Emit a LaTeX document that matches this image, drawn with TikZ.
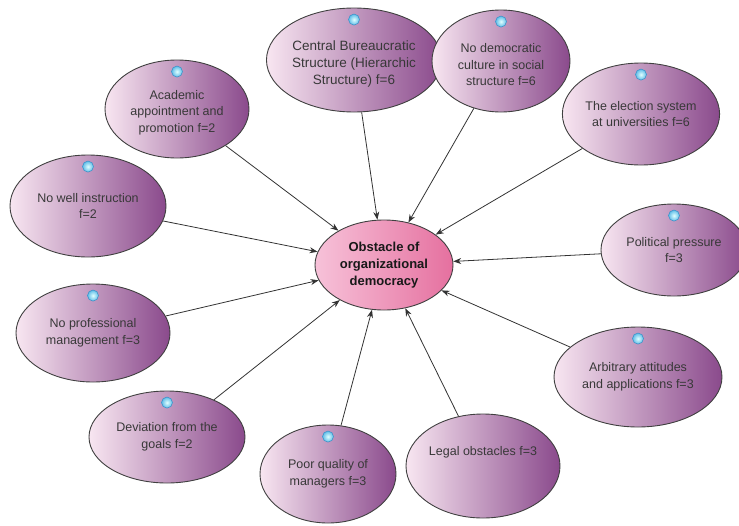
\documentclass[tikz,border=0pt]{standalone}
\usepackage{fontspec}
\setmainfont{Liberation Sans}
\usetikzlibrary{shapes,arrows.meta}
\definecolor{bubleft}{HTML}{F8E6F1}
\definecolor{bubmid}{HTML}{E9D0E6}
\definecolor{bubright}{HTML}{8A4A8C}
\definecolor{obsleft}{HTML}{F7C2D9}
\definecolor{obsright}{HTML}{E5709F}
\definecolor{dotblue}{HTML}{5FBDE8}
\definecolor{dotring}{HTML}{3E93C9}

\begin{document}
\begin{tikzpicture}[x=1pt,y=-1pt,
  cause/.style={ellipse, draw=black!75, line width=0.9pt, left color=bubleft, middle color=bubmid, right color=bubright, text=black!78, align=center, inner sep=0pt, font=\fontsize{12.5}{16.5}\selectfont},
  obstacle/.style={ellipse, draw=black!75, line width=0.9pt, left color=obsleft, right color=obsright, text=black!90, align=center, inner sep=0pt, font=\bfseries\fontsize{13}{17}\selectfont},
  sz/.style 2 args={minimum width=#1pt, minimum height=#2pt},
  blob/.style={circle, inner color=cyan!12, outer color=dotblue, draw=dotring, line width=0.6pt, minimum size=11pt, inner sep=0pt},
  link/.style={-{Stealth[length=8pt,width=6pt]}, draw=black!80, line width=0.8pt}]
\useasboundingbox (0,0) rectangle (739,525);
\node[obstacle, sz={138}{90}] (obst) at (384,265) {Obstacle of\\organizational\\democracy};
\node[cause, sz={144}{98}] (acad) at (177,109) {\\Academic\\appointment and\\promotion f=2};
\node[cause, sz={160}{104}, font=\fontsize{13.5}{17}\selectfont] (cent) at (354,60) {\\Central Bureaucratic\\Structure (Hierarchic\\Structure) f=6};
\node[cause, sz={138}{102}] (demo) at (501,61) {\\No democratic\\culture in social\\structure f=6};
\node[cause, sz={152}{102}] (elec) at (641,114) {The election system\\at universities f=6};
\node[cause, sz={146}{92}] (poli) at (674,250) {Political pressure\\f=3};
\node[cause, sz={168}{100}] (arbi) at (638,377) {Arbitrary attitudes\\and applications f=3};
\node[cause, sz={154}{104}] (legal) at (483,466) {Legal obstacles f=3\\[14pt]};
\node[cause, sz={136}{98}] (poor) at (328,474) {Poor quality of\\managers f=3};
\node[cause, sz={156}{92}] (devi) at (167,437) {Deviation from the\\goals f=2};
\node[cause, sz={154}{98}] (prof) at (93,333) {No professional\\management f=3};
\node[cause, sz={156}{102}] (well) at (88,206) {No well instruction\\f=2};
\foreach \n in {acad,cent,demo,elec,poli,arbi,poor,devi,prof,well}
  \node[blob] (\n-dot) at ([yshift=-12pt]\n.north) {};
\foreach \n in {acad,cent,demo,elec,poli,arbi,legal,poor,devi,prof,well}
  \draw[link] (\n) -- (obst);
\end{tikzpicture}
\end{document}
